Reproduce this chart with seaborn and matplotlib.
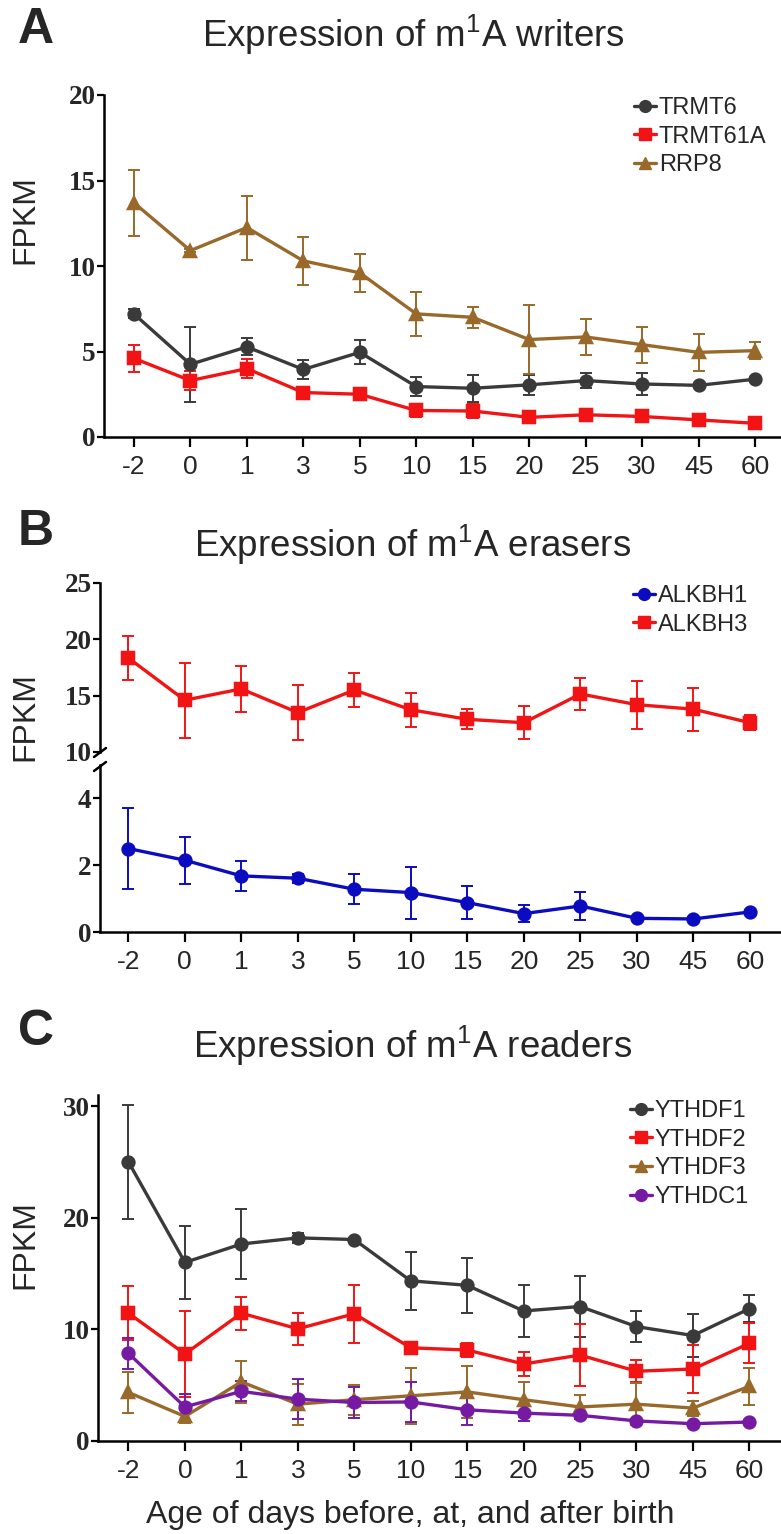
import numpy as np
import pandas as pd
import matplotlib
matplotlib.use("Agg")
import matplotlib.pyplot as plt
import seaborn as sns
from matplotlib.lines import Line2D

# ---------------- data ----------------
days = ["-2", "0", "1", "3", "5", "10", "15", "20", "25", "30", "45", "60"]

# Panel A: writers
writer_genes = ["TRMT6", "TRMT61A", "RRP8"]
trmt6 = [7.2, 4.25, 5.27, 3.95, 4.95, 2.95, 2.85, 3.05, 3.3, 3.1, 3.02, 3.38]
trmt6_err = [0.27, 2.18, 0.5, 0.53, 0.71, 0.56, 0.8, 0.6, 0.44, 0.65, 0.1, 0.15]
trmt61a = [4.6, 3.3, 4.0, 2.6, 2.5, 1.55, 1.52, 1.15, 1.3, 1.2, 1.0, 0.8]
trmt61a_err = [0.8, 0.55, 0.55, 0.12, 0.12, 0.38, 0.42, 0.12, 0.1, 0.1, 0.1, 0.1]
rrp8 = [13.7, 10.9, 12.25, 10.3, 9.6, 7.2, 7.0, 5.7, 5.85, 5.4, 4.95, 5.05]
rrp8_err = [1.93, 0.1, 1.87, 1.41, 1.12, 1.3, 0.6, 2.03, 1.03, 1.06, 1.09, 0.5]

# Panel B: erasers
eraser_genes = ["ALKBH1", "ALKBH3"]
alkbh1 = [2.5, 2.15, 1.68, 1.61, 1.28, 1.18, 0.88, 0.55, 0.78, 0.41, 0.39, 0.6]
alkbh1_err = [1.21, 0.7, 0.46, 0.13, 0.45, 0.78, 0.5, 0.26, 0.42, 0.05, 0.05, 0.05]
alkbh3 = [18.35, 14.6, 15.6, 13.5, 15.5, 13.75, 12.9, 12.6, 15.15, 14.2, 13.8, 12.6]
alkbh3_err = [1.93, 3.34, 2.05, 2.45, 1.5, 1.49, 0.9, 1.48, 1.45, 2.14, 1.91, 0.65]

# Panel C: readers
reader_genes = ["YTHDF1", "YTHDF2", "YTHDF3", "YTHDC1"]
ythdf1 = [25.0, 16.0, 17.65, 18.2, 18.05, 14.35, 13.95, 11.65, 12.05, 10.25, 9.45, 11.85]
ythdf1_err = [5.1, 3.26, 3.1, 0.45, 0.15, 2.57, 2.47, 2.3, 2.74, 1.41, 1.89, 1.2]
ythdf2 = [11.45, 7.8, 11.45, 10.05, 11.4, 8.35, 8.15, 6.9, 7.7, 6.25, 6.45, 8.75]
ythdf2_err = [2.4, 3.84, 1.48, 1.45, 2.6, 0.4, 0.66, 1.08, 2.81, 0.97, 2.19, 1.8]
ythdf3 = [4.35, 2.2, 5.3, 3.3, 3.7, 4.05, 4.4, 3.7, 3.05, 3.3, 2.95, 4.9]
ythdf3_err = [1.83, 0.6, 1.9, 1.85, 1.35, 2.5, 2.3, 1.55, 1.1, 1.9, 0.67, 1.65]
ythdc1 = [7.85, 3.05, 4.45, 3.75, 3.45, 3.5, 2.8, 2.5, 2.3, 1.8, 1.55, 1.7]
ythdc1_err = [1.38, 1.2, 0.89, 1.78, 1.41, 1.83, 1.39, 0.67, 0.3, 0.2, 0.1, 0.15]

# ---------------- style ----------------
DARK, RED, BROWN, BLUE, PURPLE = "#3a3a3a", "#f21414", "#98692a", "#0b0bc0", "#761aa3"

sns.set_style("ticks")
plt.rcParams["font.family"] = ["Liberation Sans", "DejaVu Sans"]
plt.rcParams["mathtext.fontset"] = "custom"
plt.rcParams["mathtext.rm"] = "Liberation Sans"
plt.rcParams["mathtext.it"] = "Liberation Sans:italic"
plt.rcParams["mathtext.bf"] = "Liberation Sans:bold"
plt.rcParams["mathtext.default"] = "rm"

W, H = 781, 1534
fig = plt.figure(figsize=(W / 100, H / 100), dpi=100)


def px_axes(left, right, top, bottom):
    return fig.add_axes([left / W, 1 - bottom / H, (right - left) / W, (bottom - top) / H])


def draw(ax, series):
    rows = []
    for name, vals, errs, color, marker in series:
        for d, v, e in zip(days, vals, errs):
            rows.append(dict(day=d, gene=name, fpkm=v, err=e))
    df = pd.DataFrame(rows)
    names = [s[0] for s in series]
    for name, vals, errs, color, marker in series:
        sub = df[df.gene == name]
        ax.errorbar(np.arange(len(days)), sub.fpkm.values, yerr=sub.err.values, fmt="none",
                    ecolor=color, elinewidth=1.4, capsize=4.5, capthick=1.4, zorder=2)
    sns.pointplot(data=df, x="day", y="fpkm", hue="gene", order=days, hue_order=names,
                  palette=[s[3] for s in series], markers=[s[4] for s in series],
                  linestyles="-", errorbar=None, dodge=False, ax=ax, legend=False,
                  markersize=8.5, linewidth=2.4)


def style_axes(ax, yticks, show_x=True, xlim=(-0.53, 11.46)):
    sns.despine(ax=ax)
    ax.set_xlim(*xlim)
    ax.set_xlabel("")
    ax.set_ylabel("")
    for side in ("left", "bottom"):
        ax.spines[side].set_linewidth(1.8)
        ax.spines[side].set_color("black")
    ax.set_yticks(yticks)
    ax.set_yticklabels([str(t) for t in yticks])
    for lbl in ax.get_yticklabels():
        lbl.set_fontfamily("Liberation Serif")
        lbl.set_fontweight("bold")
        lbl.set_fontsize(19.5)
    ax.tick_params(axis="y", length=5, width=1.6, pad=1, color="black")
    if show_x:
        ax.set_xticks(range(len(days)))
        ax.set_xticklabels(days, fontsize=19)
        ax.tick_params(axis="x", length=7, width=1.6, pad=6, color="black")
    else:
        ax.spines["bottom"].set_visible(False)
        ax.set_xticks([])


def legend(ax, series, x_px, top_px):
    handles = [Line2D([], [], color=c, marker=m, lw=2.4, ms=8.5) for _, _, _, c, m in series]
    ax.legend(handles, [s[0] for s in series], loc="upper left",
              bbox_to_anchor=(x_px / W, 1 - top_px / H), bbox_transform=fig.transFigure,
              frameon=False, fontsize=17, handlelength=0.95, handletextpad=0.1,
              labelspacing=0.28, borderpad=0, borderaxespad=0)


# ---------------- Panel A ----------------
axA = px_axes(104, 781, 95, 437)
serA = [("TRMT6", trmt6, trmt6_err, DARK, "o"),
        ("TRMT61A", trmt61a, trmt61a_err, RED, "s"),
        ("RRP8", rrp8, rrp8_err, BROWN, "^")]
draw(axA, serA)
axA.set_ylim(0, 20)
style_axes(axA, [0, 5, 10, 15, 20])
legend(axA, serA, 634, 97)

# ---------------- Panel B ----------------
serB_hi = [("ALKBH3", alkbh3, alkbh3_err, RED, "s")]
serB_lo = [("ALKBH1", alkbh1, alkbh1_err, BLUE, "o")]
axBt = px_axes(100, 781, 583, 752)
draw(axBt, serB_hi)
axBt.set_ylim(10, 25)
style_axes(axBt, [10, 15, 20, 25], show_x=False, xlim=(-0.5, 11.55))
axBb = px_axes(100, 781, 765, 932)
draw(axBb, serB_lo)
axBb.set_ylim(0, 5)
style_axes(axBb, [0, 2, 4], xlim=(-0.5, 11.55))
legend(axBt, [("ALKBH1", alkbh1, alkbh1_err, BLUE, "o"), ("ALKBH3", alkbh3, alkbh3_err, RED, "s")], 633, 585)
for (x1, y1, x2, y2) in [(94, 757, 106, 748), (94, 771, 106, 762)]:
    fig.add_artist(Line2D([x1 / W, x2 / W], [1 - y1 / H, 1 - y2 / H], color="black",
                          lw=1.8, transform=fig.transFigure))

# ---------------- Panel C ----------------
axC = px_axes(98, 781, 1095, 1441)
serC = [("YTHDF1", ythdf1, ythdf1_err, DARK, "o"),
        ("YTHDF2", ythdf2, ythdf2_err, RED, "s"),
        ("YTHDF3", ythdf3, ythdf3_err, BROWN, "^"),
        ("YTHDC1", ythdc1, ythdc1_err, PURPLE, "o")]
draw(axC, serC)
axC.set_ylim(0, 31)
style_axes(axC, [0, 10, 20, 30], xlim=(-0.54, 11.56))
legend(axC, serC, 630, 1100)

# ---------------- texts ----------------
titles = [("A", "Expression of m$^{1}$A writers", 30, 35),
          ("B", "Expression of m$^{1}$A erasers", 532, 545),
          ("C", "Expression of m$^{1}$A readers", 1032, 1046)]
for letter, title, ly, ty in titles:
    fig.text(36 / W, 1 - ly / H, letter, fontsize=36, fontweight="bold", ha="center", va="center")
    fig.text(413 / W, 1 - ty / H, title, fontsize=26.5, ha="center", va="center")

for cy in (220, 717, 1245):
    fig.text(25 / W, 1 - cy / H, "FPKM", fontsize=23, rotation=90, ha="center", va="center")

fig.text(410 / W, 1 - 1515 / H, "Age of days before, at, and after birth", fontsize=23,
         ha="center", va="center")

fig.savefig("out.png", dpi=100)
